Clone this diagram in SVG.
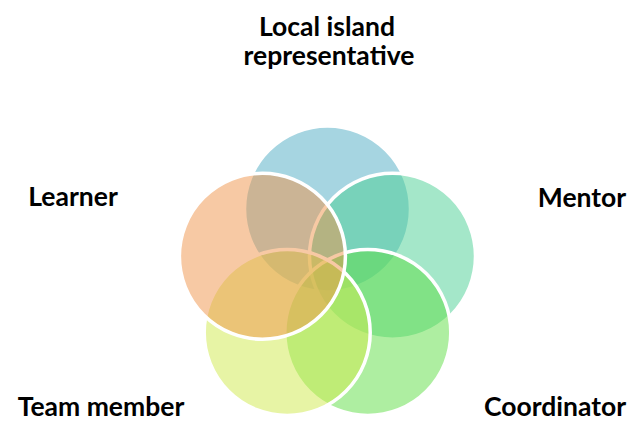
<svg xmlns="http://www.w3.org/2000/svg" width="629" height="421" viewBox="0 0 629 421">
  <style>
    .ring { stroke: #ffffff; stroke-width: 3.5; fill-opacity: 0.5; }
    .label { font-family: Lato, "Open Sans", "Liberation Sans", sans-serif; font-weight: bold; font-size: 26.5px; fill: #000000; text-anchor: middle; }
  </style>
  <rect width="629" height="421" fill="#ffffff"/>
  <!-- five overlapping roles, drawn in stacking order -->
  <g id="node-local-island-representative">
    <circle class="ring" cx="327.5" cy="209" r="83" fill="#4dabc3"/>
  </g>
  <g id="node-mentor">
    <circle class="ring" cx="392.5" cy="256.3" r="83" fill="#49cf93"/>
  </g>
  <g id="node-coordinator">
    <circle class="ring" cx="367.8" cy="332.5" r="83" fill="#5ddd43"/>
  </g>
  <g id="node-team-member">
    <circle class="ring" cx="287.2" cy="332.5" r="83" fill="#cfe94b"/>
  </g>
  <g id="node-learner">
    <circle class="ring" cx="262.4" cy="256.3" r="83" fill="#ef9349"/>
  </g>
  <g id="connectors"/>
  <g id="labels">
    <text class="label" x="327" y="36"><tspan x="327">Local island</tspan><tspan x="329" dy="28.5">representative</tspan></text>
    <text class="label" x="582" y="206.5">Mentor</text>
    <text class="label" x="73" y="206">Learner</text>
    <text class="label" x="101" y="416">Team member</text>
    <text class="label" x="555" y="416">Coordinator</text>
  </g>
</svg>
